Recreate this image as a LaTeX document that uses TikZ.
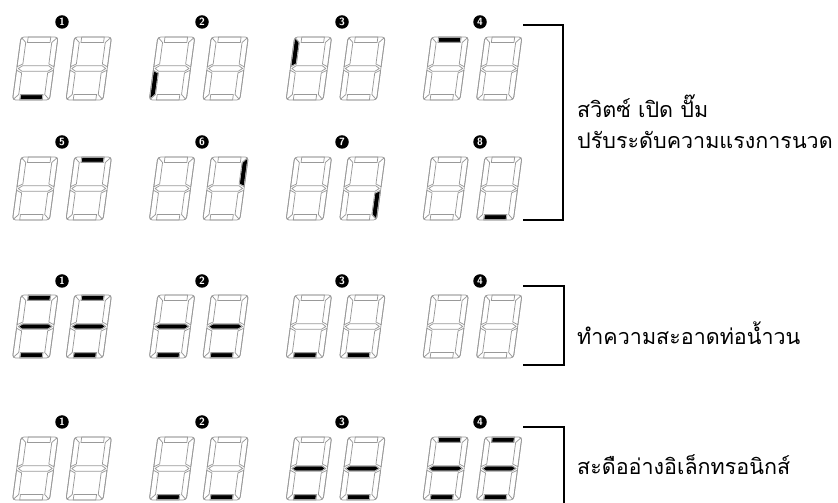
\documentclass[tikz,border=0pt]{standalone}
\usepackage{fontspec}
\newfontfamily\thaifont[Script=Thai]{Loma}
\usepackage{xcolor}

% segment outlines of one digit (width 37, height 63, before slanting)
\newcommand{\segshapea}{(7.2,57.5) rectangle (29.8,63)}
\newcommand{\segshapeb}{(37,33.2) -- (31.5,36) -- (31.5,57.5) -- (36.12,62.12) arc[start angle=45, end angle=0, radius=3] -- cycle}
\newcommand{\segshapec}{(37,29.8) -- (31.5,27) -- (31.5,5.5) -- (36.12,0.88) arc[start angle=-45, end angle=0, radius=3] -- cycle}
\newcommand{\segshaped}{(7.2,0) rectangle (29.8,5.5)}
\newcommand{\segshapee}{(0,29.8) -- (5.5,27) -- (5.5,5.5) -- (0.88,0.88) arc[start angle=225, end angle=180, radius=3] -- cycle}
\newcommand{\segshapef}{(0,33.2) -- (5.5,36) -- (5.5,57.5) -- (0.88,62.12) arc[start angle=135, end angle=180, radius=3] -- cycle}
\newcommand{\segshapeg}{(1.5,31.5) -- (5.5,34.25) -- (31.5,34.25) -- (35.5,31.5) -- (31.5,28.75) -- (5.5,28.75) -- cycle}
\newcommand{\segshapenone}{}

% \sevenseg{x}{y}{lit segments}
\newcommand{\sevenseg}[3]{%
  \begin{scope}[shift={(#1,#2)}, xslant=0.135]
    \foreach \s in {#3} {\expandafter\let\expandafter\segcur\csname segshape\s\endcsname
      \filldraw[segon] \segcur;}
    \foreach \s in {a,b,c,d,e,f,g} {\expandafter\let\expandafter\segcur\csname segshape\s\endcsname
      \draw[segoff] \segcur;}
    \draw[segoff, rounded corners=3] (0,0) rectangle (37,63);
  \end{scope}}

\begin{document}
\begin{tikzpicture}[x=1pt, y=1pt,
  % Segment Styles
  segoff/.style={draw=black!40, line width=0.75pt, line join=round},
  segon/.style={fill=black, draw=white, line width=1.1pt},
  % Node Styles
  numdot/.style={circle, fill=black, text=white, inner sep=0pt, minimum size=13.5pt, font=\sffamily\bfseries\fontsize{10.5}{10.5}\selectfont},
  thaitext/.style={anchor=base west, inner sep=0pt, font=\thaifont\fontsize{21.5}{26}\selectfont},
  % Line Styles
  bracket/.style={draw=black, line width=1.5pt}
]
\useasboundingbox (0,0) rectangle (838,503);

% Diagram for: switch, pump, massage level

\sevenseg{12.5}{403}{d}     \sevenseg{66}{403}{none}
\sevenseg{149.3}{403}{e}    \sevenseg{202.8}{403}{none}
\sevenseg{286.1}{403}{f}    \sevenseg{339.6}{403}{none}
\sevenseg{422.9}{403}{a}    \sevenseg{476.4}{403}{none}

\sevenseg{12.5}{283}{none}  \sevenseg{66}{283}{a}
\sevenseg{149.3}{283}{none} \sevenseg{202.8}{283}{b}
\sevenseg{286.1}{283}{none} \sevenseg{339.6}{283}{c}
\sevenseg{422.9}{283}{none} \sevenseg{476.4}{283}{d}

\node[numdot] (r1n1) at (62,481) {1};
\node[numdot] (r1n2) at (202,481) {2};
\node[numdot] (r1n3) at (342,481) {3};
\node[numdot] (r1n4) at (480,481) {4};
\node[numdot] (r2n5) at (62,361) {5};
\node[numdot] (r2n6) at (202,361) {6};
\node[numdot] (r2n7) at (342,361) {7};
\node[numdot] (r2n8) at (480,361) {8};

\coordinate (b1a) at (523,478);
\coordinate (b1b) at (563,478);
\coordinate (b1c) at (563,283);
\coordinate (b1d) at (523,283);
\draw[bracket] (b1a) -- (b1b) -- (b1c) -- (b1d);

\node[thaitext] (lbl1a) at (577,385) {สวิตซ์ เปิด ปั๊ม};
\node[thaitext] (lbl1b) at (577,354) {ปรับระดับความแรงการนวด};

% Diagram for: pipe cleaning

\sevenseg{12.5}{145}{a,g,d}  \sevenseg{66}{145}{a,g,d}
\sevenseg{149.3}{145}{g,d}   \sevenseg{202.8}{145}{g,d}
\sevenseg{286.1}{145}{d}     \sevenseg{339.6}{145}{d}
\sevenseg{422.9}{145}{none}  \sevenseg{476.4}{145}{none}

\node[numdot] (r3n1) at (62,222) {1};
\node[numdot] (r3n2) at (202,222) {2};
\node[numdot] (r3n3) at (342,222) {3};
\node[numdot] (r3n4) at (480,222) {4};

\coordinate (b2a) at (523,217);
\coordinate (b2b) at (564,217);
\coordinate (b2c) at (564,138);
\coordinate (b2d) at (523,138);
\draw[bracket] (b2a) -- (b2b) -- (b2c) -- (b2d);

\node[thaitext] (lbl2) at (577,158) {ทำความสะอาดท่อน้ำวน};

% Diagram for: electronic plug

\sevenseg{12.5}{3}{none}    \sevenseg{66}{3}{none}
\sevenseg{149.3}{3}{d}      \sevenseg{202.8}{3}{d}
\sevenseg{286.1}{3}{g,d}    \sevenseg{339.6}{3}{g,d}
\sevenseg{422.9}{3}{a,g,d}  \sevenseg{476.4}{3}{a,g,d}

\node[numdot] (r4n1) at (62,81) {1};
\node[numdot] (r4n2) at (202,81) {2};
\node[numdot] (r4n3) at (342,81) {3};
\node[numdot] (r4n4) at (480,81) {4};

\coordinate (b3a) at (523,76);
\coordinate (b3b) at (564,76);
\coordinate (b3c) at (564,0);
\draw[bracket] (b3a) -- (b3b) -- (b3c);

\node[thaitext] (lbl3) at (577,28) {สะดืออ่างอิเล็กทรอนิกส์};

\end{tikzpicture}
\end{document}
